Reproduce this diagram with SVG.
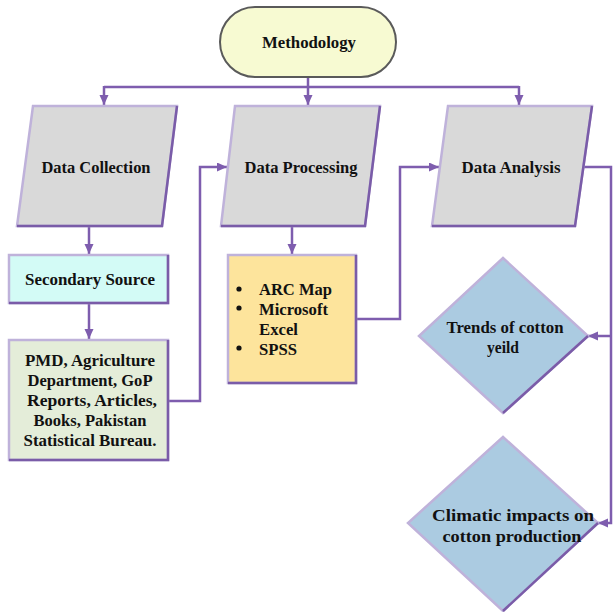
<svg xmlns="http://www.w3.org/2000/svg" width="613" height="612" viewBox="0 0 613 612">
<defs>
<marker id="ah" markerUnits="userSpaceOnUse" markerWidth="11" markerHeight="10" refX="10" refY="4.5" orient="auto">
<path d="M0,0 L10,4.5 L0,9 z" fill="#7E5DAE"/>
</marker>
<style>
text{font-weight:bold;font-size:16.5px;fill:#111;}
.c{text-anchor:middle;}
.lite{stroke:#BFB2DA;stroke-width:2.5;stroke-linejoin:miter;}
.dark{fill:none;stroke:#7A5CA8;stroke-width:2.5;stroke-linejoin:miter;}
.para{fill:#D9D9D9;}
.conn{fill:none;stroke:#7E5DAE;stroke-width:2.5;}
</style>
</defs>
<rect width="613" height="612" fill="#fff"/>

<g id="connectors">
<path class="conn" d="M308,78 V105" marker-end="url(#ah)"/>
<path class="conn" d="M104,87 H519"/>
<path class="conn" d="M104,86 V105" marker-end="url(#ah)"/>
<path class="conn" d="M519,86 V105" marker-end="url(#ah)"/>
<path class="conn" d="M89,227 V254" marker-end="url(#ah)"/>
<path class="conn" d="M89,304 V339" marker-end="url(#ah)"/>
<path class="conn" d="M169,401 H200 V167 H227" marker-end="url(#ah)"/>
<path class="conn" d="M292,227 V254" marker-end="url(#ah)"/>
<path class="conn" d="M357,319 H400 V167 H439" marker-end="url(#ah)"/>
<path class="conn" d="M584,167 H611 V523 H598" marker-end="url(#ah)"/>
<path class="conn" d="M611,336 H588" marker-end="url(#ah)"/>
</g>

<g font-family="Liberation Serif, Times New Roman, serif" lengthAdjust="spacingAndGlyphs">
<g id="methodology">
<rect x="220" y="7" width="176" height="70" rx="35" ry="35" fill="#F7FAD2" stroke="#5A5A5A" stroke-width="2"/>
<text class="c" x="309" y="48" textLength="94" lengthAdjust="spacingAndGlyphs">Methodology</text>
</g>

<g id="data-collection">
<polygon class="para lite" points="33,106 177,106 162,226 17,226"/>
<polyline class="dark" points="177,106 162,226 17,226"/>
<text class="c" x="96" y="173" textLength="109" lengthAdjust="spacingAndGlyphs">Data Collection</text>
</g>

<g id="data-processing">
<polygon class="para lite" points="235,106 380,106 365,226 221,226"/>
<polyline class="dark" points="380,106 365,226 221,226"/>
<text class="c" x="301" y="173" textLength="113" lengthAdjust="spacingAndGlyphs">Data Processing</text>
</g>

<g id="data-analysis">
<polygon class="para lite" points="448,106 592,106 575,226 432,226"/>
<polyline class="dark" points="592,106 575,226 432,226"/>
<text class="c" x="511" y="173" textLength="99" lengthAdjust="spacingAndGlyphs">Data Analysis</text>
</g>

<g id="secondary-source">
<rect class="lite" x="9" y="255" width="159" height="48" fill="#D3FBF6"/>
<polyline class="dark" points="168,255 168,303 9,303"/>
<text class="c" x="90" y="285" textLength="130" lengthAdjust="spacingAndGlyphs">Secondary Source</text>
</g>

<g id="sources">
<rect class="lite" x="9" y="340" width="159" height="120" fill="#E4EDD9"/>
<polyline class="dark" points="168,340 168,460 9,460"/>
<text class="c" x="90" y="366" textLength="130" lengthAdjust="spacingAndGlyphs">PMD, Agriculture</text>
<text class="c" x="90" y="386" textLength="125" lengthAdjust="spacingAndGlyphs">Department, GoP</text>
<text class="c" x="92" y="406" textLength="130" lengthAdjust="spacingAndGlyphs">Reports, Articles,</text>
<text class="c" x="90" y="426" textLength="113" lengthAdjust="spacingAndGlyphs">Books, Pakistan</text>
<text class="c" x="90" y="446" textLength="133" lengthAdjust="spacingAndGlyphs">Statistical Bureau.</text>
</g>

<g id="tools">
<rect class="lite" x="228" y="255" width="128" height="128" fill="#FDE49C"/>
<polyline class="dark" points="356,255 356,383 228,383"/>
<circle cx="239" cy="289" r="2.6" fill="#111"/>
<circle cx="239" cy="308" r="2.6" fill="#111"/>
<circle cx="239" cy="348" r="2.6" fill="#111"/>
<text x="259" y="295" textLength="73" lengthAdjust="spacingAndGlyphs">ARC Map</text>
<text x="259" y="315" textLength="69" lengthAdjust="spacingAndGlyphs">Microsoft</text>
<text x="259" y="335" textLength="39" lengthAdjust="spacingAndGlyphs">Excel</text>
<text x="259" y="355" textLength="38" lengthAdjust="spacingAndGlyphs">SPSS</text>
</g>

<g id="trends">
<polygon class="lite" points="503,258 588,336 503,413 419,336" fill="#ABCBE1" stroke="#BFD3E3"/>
<polyline class="dark" points="588,336 503,413"/>
<text class="c" x="505" y="333" textLength="117" lengthAdjust="spacingAndGlyphs">Trends of cotton</text>
<text class="c" x="503" y="353" textLength="32" lengthAdjust="spacingAndGlyphs">yeild</text>
</g>

<g id="climatic">
<polygon class="lite" points="503,437 598,523 503,611 408,523" fill="#ABCBE1" stroke="#BFD3E3"/>
<polyline class="dark" points="598,523 503,611"/>
<text class="c" x="513" y="521" textLength="162" lengthAdjust="spacingAndGlyphs">Climatic impacts on</text>
<text class="c" x="512" y="542" textLength="139" lengthAdjust="spacingAndGlyphs">cotton production</text>
</g>
</g>
</svg>
